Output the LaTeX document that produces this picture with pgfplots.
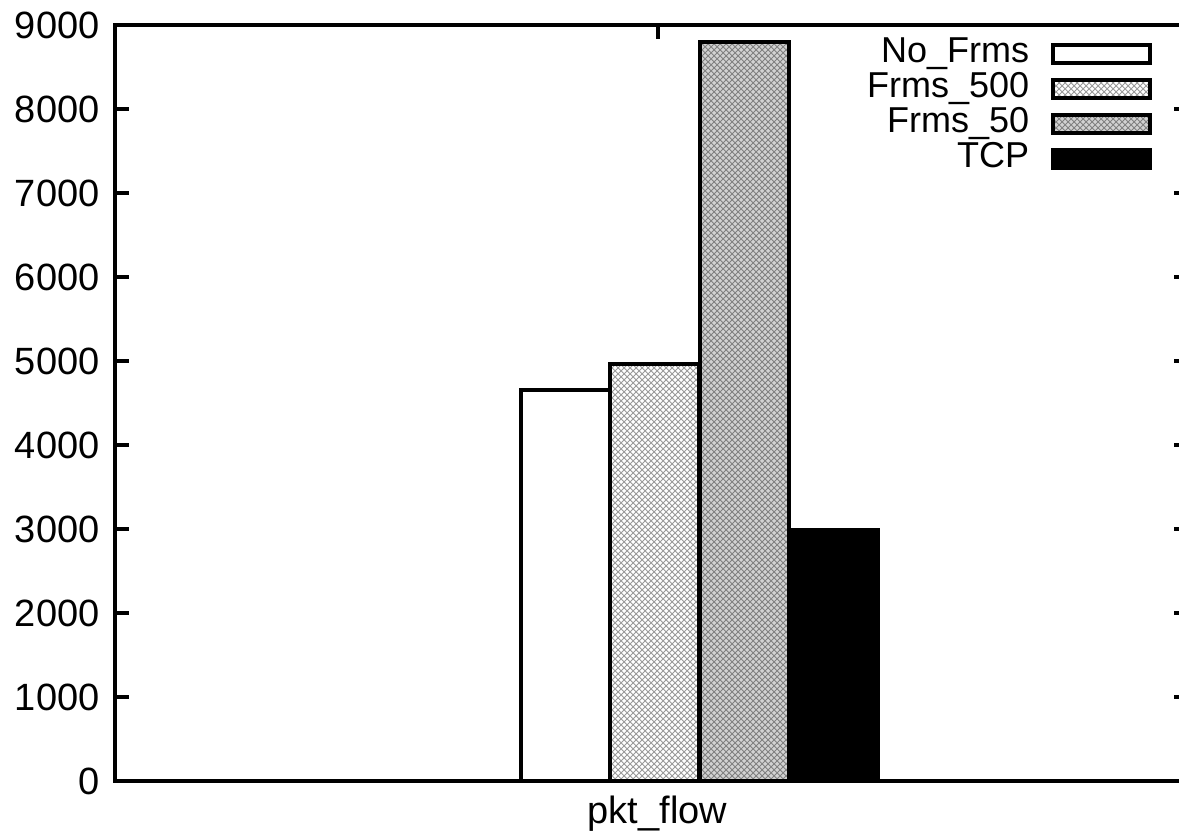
\documentclass[border=0pt]{standalone}
\usepackage{pgfplots}
\pgfplotsset{compat=1.18}
\usepackage{fontspec}
\setmainfont{Liberation Sans}
\usetikzlibrary{patterns}
\pgfplotsset{boxleg/.style={legend image code/.code={\draw[##1] (0pt,-4.5pt) rectangle (48.5pt,4.5pt);}}}
\begin{document}
\begin{tikzpicture}
\begin{axis}[
  at={(0pt,0pt)}, anchor=south west,
  scale only axis,
  width=536pt, height=378pt,
  xmin=0, xmax=1072,
  ymin=0, ymax=9000,
  xtick={542}, xticklabels={pkt\_flow},
  ytick={0,1000,...,9000},
  scaled y ticks=false,
  /pgf/number format/.cd, set thousands separator={}, assume math mode=true,
  /pgfplots/.cd,
  tick align=inside,
  major tick length=7pt,
  tick style={line width=2pt, black},
  axis line style={line width=2pt},
  tick label style={font=\fontsize{19}{21}\selectfont},
  yticklabel style={xshift=-4.5pt},
  xticklabel style={yshift=-4pt},
  legend plot pos=right,
  legend cell align=right,
  legend style={at={(rel axis cs:0.967,0.9854)}, anchor=north east,
    draw=none, fill=none, inner sep=0pt, outer sep=0pt,
    font=\fontsize{18}{18}\selectfont, row sep=0pt,
    nodes={inner sep=0pt, text height=13pt, text depth=4.5pt},
    /tikz/every odd column/.append style={column sep=11pt}},
]
\addplot[ybar, bar shift=0pt, bar width=89, draw=black, line width=2pt, fill=white, boxleg]
  coordinates {(450,4655)};
\addlegendentry{No\_Frms}
\addplot[ybar, bar shift=0pt, bar width=89, draw=black, line width=2pt, fill=white,
  postaction={pattern=crosshatch, pattern color=gray!80}, boxleg]
  coordinates {(539,4968)};
\addlegendentry{Frms\_500}
\addplot[ybar, bar shift=0pt, bar width=89, draw=black, line width=2pt, fill=gray!35,
  postaction={pattern=crosshatch, pattern color=gray}, boxleg]
  coordinates {(629,8798)};
\addlegendentry{Frms\_50}
\addplot[ybar, bar shift=0pt, bar width=89, draw=black, line width=2pt, fill=black, boxleg]
  coordinates {(718,2990)};
\addlegendentry{TCP}
\end{axis}
\pgfresetboundingbox
\useasboundingbox (-57.75pt,-27.5pt) rectangle (531.75pt,390.5pt);
\end{tikzpicture}
\end{document}
